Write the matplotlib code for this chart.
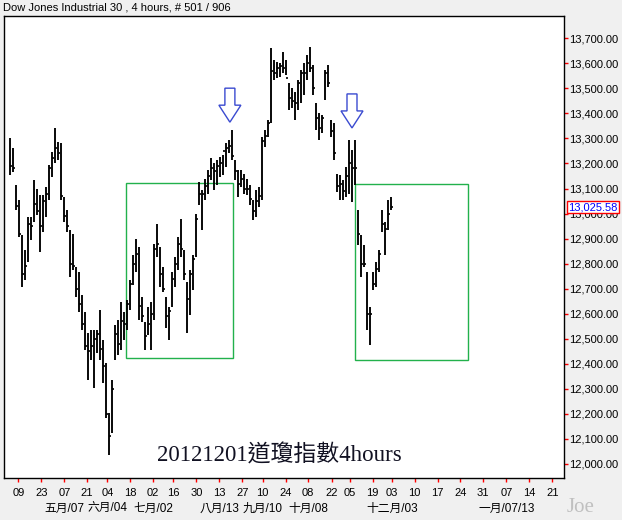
import matplotlib
matplotlib.use("Agg")
import matplotlib.pyplot as plt
from matplotlib.patches import Rectangle, Polygon
from matplotlib.ticker import FuncFormatter, FixedLocator
from matplotlib.transforms import blended_transform_factory

# 4-hour bars, Dow Jones Industrial 30
highs = [13300, 13260, 13115, 13055, 12915, 12855, 12985, 12985, 13135, 13100,
         13075, 13075, 13105, 13195, 13245, 13340, 13285, 13280, 13065, 13015,
         12935, 12920, 12785, 12765, 12675, 12605, 12525, 12535, 12535, 12535,
         12615, 12495, 12405, 12205, 12335, 12555, 12575, 12645, 12605, 12655,
         12735, 12835, 12900, 12865, 12665, 12565, 12625, 12645, 12880, 12960,
         12865, 12785, 12665, 12625, 12765, 12825, 12905, 12980, 12855, 12725,
         12775, 12835, 13000, 13125, 13095, 13140, 13175, 13220, 13200, 13215,
         13225, 13235, 13280, 13295, 13335, 13215, 13175, 13175, 13160, 13140,
         13115, 13055, 13095, 13105, 13305, 13335, 13375, 13660, 13615, 13605,
         13600, 13645, 13615, 13520, 13500, 13485, 13535, 13575, 13600, 13635,
         13665, 13595, 13440, 13400, 13395, 13575, 13595, 13375, 13360, 13160,
         13155, 13135, 13185, 13295, 13255, 13295, 13015, 12915, 12875, 12765,
         12625, 12765, 12805, 12855, 13015, 12965, 13055, 13065]
lows = [13155, 13165, 13015, 12905, 12705, 12735, 12805, 12895, 12965, 12995,
        12845, 12925, 12985, 13055, 13145, 13200, 13215, 13055, 12965, 12925,
        12745, 12775, 12665, 12605, 12535, 12455, 12335, 12415, 12305, 12445,
        12415, 12325, 12185, 12035, 12125, 12415, 12435, 12455, 12495, 12535,
        12615, 12715, 12765, 12575, 12565, 12455, 12515, 12455, 12575, 12825,
        12705, 12685, 12545, 12495, 12625, 12705, 12775, 12825, 12735, 12525,
        12595, 12695, 12825, 13035, 12935, 13055, 13080, 13135, 13095, 13115,
        13145, 13155, 13185, 13240, 13215, 13135, 13065, 13105, 13080, 13075,
        13035, 12975, 12985, 13025, 13055, 13265, 13305, 13360, 13535, 13540,
        13545, 13560, 13555, 13415, 13420, 13375, 13415, 13440, 13475, 13535,
        13565, 13475, 13335, 13295, 13320, 13455, 13505, 13305, 13215, 13085,
        13055, 13055, 13065, 13080, 13045, 13115, 12875, 12745, 12785, 12535,
        12475, 12695, 12705, 12765, 12925, 12835, 12935, 13015]
closes = [13190, 13180, 13030, 12920, 12760, 12790, 12960, 12950, 13040, 13010,
          12950, 13050, 13080, 13180, 13220, 13260, 13240, 13070, 12990, 12950,
          12800, 12790, 12700, 12640, 12560, 12470, 12450, 12470, 12500, 12520,
          12460, 12390, 12200, 12110, 12300, 12520, 12480, 12570, 12560, 12640,
          12720, 12800, 12840, 12630, 12590, 12510, 12560, 12600, 12860, 12880,
          12760, 12700, 12590, 12610, 12740, 12800, 12880, 12860, 12760, 12660,
          12760, 12820, 12980, 13080, 13080, 13110, 13150, 13180, 13170, 13190,
          13200, 13250, 13260, 13270, 13230, 13170, 13120, 13140, 13100, 13100,
          13060, 13010, 13050, 13070, 13290, 13310, 13360, 13570, 13560, 13580,
          13590, 13580, 13540, 13460, 13450, 13440, 13520, 13560, 13560, 13600,
          13580, 13500, 13380, 13340, 13380, 13560, 13520, 13330, 13240, 13110,
          13120, 13090, 13150, 13200, 13180, 13180, 12920, 12800, 12800, 12600,
          12600, 12720, 12780, 12840, 12960, 12940, 13000, 13025.58]

# date axis (positions in bar units)
day_ticks = [2.77, 10.43, 18.1, 25.57, 32.43, 40.1, 47.77, 54.43, 62.1, 69.77,
             77.43, 84.23, 91.9, 99.43, 107.23, 113.23, 120.9, 127.43, 134.9,
             142.57, 150.1, 157.77, 165.43, 173.1, 180.77]
day_labels = ["09", "23", "07", "21", "04", "18", "02", "16", "30", "13",
              "27", "10", "24", "08", "22", "05", "19", "03", "10", "17",
              "24", "31", "07", "14", "21"]
month_ticks = [18.1, 32.43, 47.77, 69.77, 84.23, 99.43, 127.43, 165.43]
month_labels = ["五月/07", "六月/04", "七月/02", "八月/13", "九月/10",
                "十月/08", "十二月/03", "一月/07/13"]

price_ticks = list(range(12000, 13701, 100))

# highlighted consolidation zones
zone_left = [38.67, 115.0]
zone_right = [74.33, 152.67]
zone_top = [13122, 13118]
zone_bottom = [12423, 12415]

# down-arrow markers (centre in bars, tip price)
arrow_x = [73.3, 114.0]
arrow_tip = [13365, 13342]

W, H = 622, 520
fig = plt.figure(figsize=(W / 100, H / 100), dpi=100, facecolor="#f0f0f0")
ax = fig.add_axes([4 / W, (H - 478) / H, 560 / W, 462 / H])
ax.set_facecolor("white")

xlo, xhi = -2.0, 184.67
ylo, yhi = 11944, 13789
ax.set_xlim(xlo, xhi)
ax.set_ylim(ylo, yhi)

# OHLC-style bars: high-low stroke with close tick on the right
idx = list(range(len(highs)))
ax.vlines(idx, lows, highs, color="black", linewidth=1.35)
ax.hlines(closes, idx, [i + 0.8 for i in idx], color="black", linewidth=1.2)

# green zones
for l, r, t, b in zip(zone_left, zone_right, zone_top, zone_bottom):
    ax.add_patch(Rectangle((l, b), r - l, t - b, fill=False,
                           edgecolor="#22b14c", linewidth=1.0))

# outlined down arrows (sizes in pixels converted to data units)
px_x = (xhi - xlo) / 560.0
px_y = (yhi - ylo) / 462.0
for cx, tip in zip(arrow_x, arrow_tip):
    head_h, head_w, shaft_w, shaft_h = 17, 11, 5, 17
    pts = [
        (cx, tip),
        (cx - head_w * px_x, tip + head_h * px_y),
        (cx - shaft_w * px_x, tip + head_h * px_y),
        (cx - shaft_w * px_x, tip + (head_h + shaft_h) * px_y),
        (cx + shaft_w * px_x, tip + (head_h + shaft_h) * px_y),
        (cx + shaft_w * px_x, tip + head_h * px_y),
        (cx + head_w * px_x, tip + head_h * px_y),
    ]
    ax.add_patch(Polygon(pts, closed=True, fill=False,
                         edgecolor="#3a4ad0", linewidth=1.0))

# axes styling
for s in ax.spines.values():
    s.set_color("black")
    s.set_linewidth(1.0)

ax.yaxis.tick_right()
ax.yaxis.set_major_locator(FixedLocator(price_ticks))
ax.yaxis.set_major_formatter(FuncFormatter(lambda v, p: f"{v:,.2f}"))
ax.tick_params(axis="y", colors="red", labelcolor="black", length=3,
               width=1, labelsize=8, pad=1)
for lab in ax.get_yticklabels():
    lab.set_family("Liberation Sans")

ax.set_xticks(day_ticks)
ax.set_xticklabels(day_labels)
ax.tick_params(axis="x", colors="red", labelcolor="black", length=3,
               width=1, labelsize=8, pad=4)
for lab in ax.get_xticklabels():
    lab.set_family("Liberation Sans")

trans = blended_transform_factory(ax.transData, fig.transFigure)
for x, lab in zip(month_ticks, month_labels):
    ax.text(x, 1 - 509 / H, lab, transform=trans, ha="center", va="center",
            fontsize=8.5, family=["Liberation Sans", "Noto Sans CJK TC"],
            clip_on=False)

# last price marker
ptrans = blended_transform_factory(ax.transAxes, ax.transData)
ax.text(1.007, closes[-1], f"{closes[-1]:,.2f}", transform=ptrans,
        ha="left", va="center", fontsize=8, color="blue", zorder=5,
        family="Liberation Sans", clip_on=False,
        bbox=dict(boxstyle="square,pad=0.12", facecolor="white",
                  edgecolor="red", linewidth=1.0))

# caption inside chart
fig.text(279 / W, 1 - 455 / H, "20121201道瓊指數4hours",
         ha="center", va="center", fontsize=16.5, color="#111122",
         family=["Liberation Serif", "Noto Sans CJK TC"])

fig.text(3 / W, 1 - 8 / H, "Dow Jones Industrial 30 , 4 hours, # 501 / 906",
         ha="left", va="center", fontsize=8, family="Liberation Sans")
fig.text(581 / W, 1 - 507 / H, "Joe", ha="center", va="center",
         fontsize=15, color="#c0c0c0", family="Liberation Serif")

fig.savefig("out.png", dpi=100, facecolor=fig.get_facecolor())
